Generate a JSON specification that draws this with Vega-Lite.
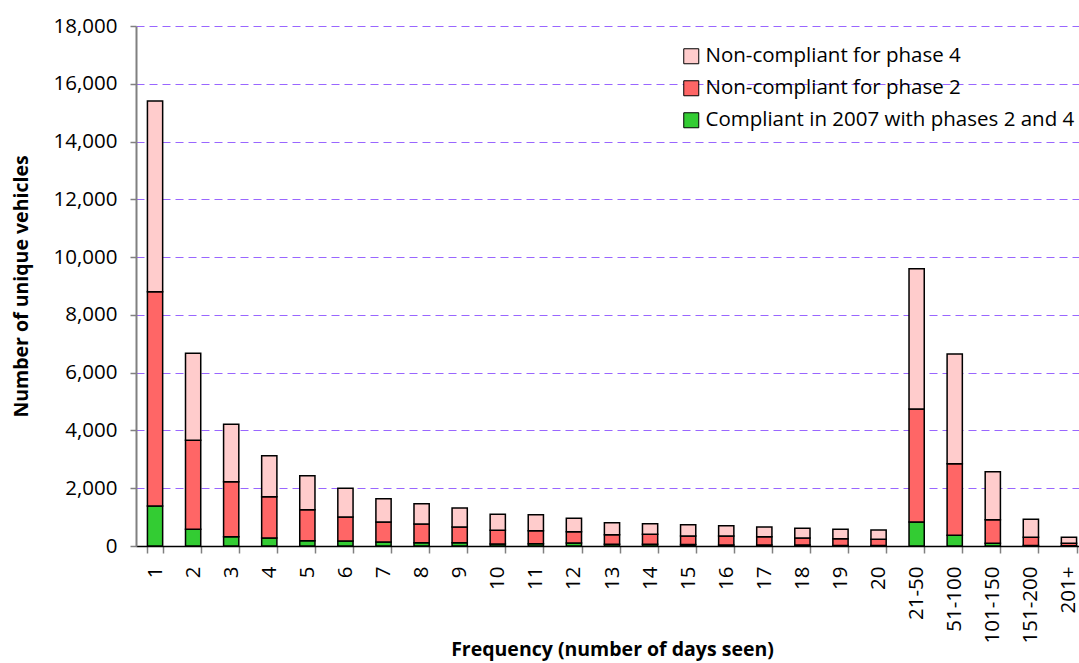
{
  "$schema": "https://vega.github.io/schema/vega-lite/v6.json",
  "autosize": {"type": "none"},
  "width": 952,
  "height": 520,
  "padding": {"left": 136, "top": 26, "right": -9, "bottom": 117},
  "background": "white",
  "config": {
    "view": {"stroke": null},
    "font": "Open Sans"
  },
  "data": {
    "values": [
      {"freq": "1", "Compliant in 2007 with phases 2 and 4": 1385, "Non-compliant for phase 2": 7418, "Non-compliant for phase 4": 6601},
      {"freq": "2", "Compliant in 2007 with phases 2 and 4": 577, "Non-compliant for phase 2": 3081, "Non-compliant for phase 4": 3012},
      {"freq": "3", "Compliant in 2007 with phases 2 and 4": 323, "Non-compliant for phase 2": 1903, "Non-compliant for phase 4": 1986},
      {"freq": "4", "Compliant in 2007 with phases 2 and 4": 277, "Non-compliant for phase 2": 1431, "Non-compliant for phase 4": 1419},
      {"freq": "5", "Compliant in 2007 with phases 2 and 4": 185, "Non-compliant for phase 2": 1073, "Non-compliant for phase 4": 1177},
      {"freq": "6", "Compliant in 2007 with phases 2 and 4": 173, "Non-compliant for phase 2": 831, "Non-compliant for phase 4": 992},
      {"freq": "7", "Compliant in 2007 with phases 2 and 4": 138, "Non-compliant for phase 2": 693, "Non-compliant for phase 4": 807},
      {"freq": "8", "Compliant in 2007 with phases 2 and 4": 115, "Non-compliant for phase 2": 647, "Non-compliant for phase 4": 703},
      {"freq": "9", "Compliant in 2007 with phases 2 and 4": 115, "Non-compliant for phase 2": 543, "Non-compliant for phase 4": 657},
      {"freq": "10", "Compliant in 2007 with phases 2 and 4": 69, "Non-compliant for phase 2": 473, "Non-compliant for phase 4": 554},
      {"freq": "11", "Compliant in 2007 with phases 2 and 4": 81, "Non-compliant for phase 2": 450, "Non-compliant for phase 4": 554},
      {"freq": "12", "Compliant in 2007 with phases 2 and 4": 104, "Non-compliant for phase 2": 392, "Non-compliant for phase 4": 462},
      {"freq": "13", "Compliant in 2007 with phases 2 and 4": 58, "Non-compliant for phase 2": 334, "Non-compliant for phase 4": 416},
      {"freq": "14", "Compliant in 2007 with phases 2 and 4": 58, "Non-compliant for phase 2": 346, "Non-compliant for phase 4": 369},
      {"freq": "15", "Compliant in 2007 with phases 2 and 4": 50, "Non-compliant for phase 2": 296, "Non-compliant for phase 4": 393},
      {"freq": "16", "Compliant in 2007 with phases 2 and 4": 35, "Non-compliant for phase 2": 311, "Non-compliant for phase 4": 358},
      {"freq": "17", "Compliant in 2007 with phases 2 and 4": 35, "Non-compliant for phase 2": 288, "Non-compliant for phase 4": 335},
      {"freq": "18", "Compliant in 2007 with phases 2 and 4": 35, "Non-compliant for phase 2": 242, "Non-compliant for phase 4": 335},
      {"freq": "19", "Compliant in 2007 with phases 2 and 4": 20, "Non-compliant for phase 2": 234, "Non-compliant for phase 4": 323},
      {"freq": "20", "Compliant in 2007 with phases 2 and 4": 20, "Non-compliant for phase 2": 211, "Non-compliant for phase 4": 323},
      {"freq": "21-50", "Compliant in 2007 with phases 2 and 4": 831, "Non-compliant for phase 2": 3912, "Non-compliant for phase 4": 4857},
      {"freq": "51-100", "Compliant in 2007 with phases 2 and 4": 369, "Non-compliant for phase 2": 2481, "Non-compliant for phase 4": 3796},
      {"freq": "101-150", "Compliant in 2007 with phases 2 and 4": 92, "Non-compliant for phase 2": 820, "Non-compliant for phase 4": 1660},
      {"freq": "151-200", "Compliant in 2007 with phases 2 and 4": 20, "Non-compliant for phase 2": 280, "Non-compliant for phase 4": 623},
      {"freq": "201+", "Compliant in 2007 with phases 2 and 4": 10, "Non-compliant for phase 2": 82, "Non-compliant for phase 4": 208}
    ]
  },
  "transform": [
    {"fold": ["Compliant in 2007 with phases 2 and 4", "Non-compliant for phase 2", "Non-compliant for phase 4"], "as": ["status", "count"]}
  ],
  "mark": {"type": "bar", "stroke": "black", "strokeWidth": 1.5},
  "encoding": {
    "x": {
      "field": "freq",
      "type": "nominal",
      "sort": null,
      "scale": {"paddingInner": 0.6, "paddingOuter": 0.3},
      "axis": {
        "title": "Frequency (number of days seen)",
        "titleFontSize": 19.5,
        "titleFontWeight": "bold",
        "titleColor": "black",
        "titleBaseline": "middle",
        "titleY": 103,
        "titleX": 476,
        "labelAngle": 270,
        "labelFontSize": 20.5,
        "labelColor": "black",
        "labelPadding": 13,
        "tickBand": "extent",
        "tickSize": 7,
        "tickColor": "#808080",
        "tickWidth": 1.5,
        "domainColor": "black",
        "domainWidth": 1.5,
        "grid": false
      }
    },
    "y": {
      "field": "count",
      "type": "quantitative",
      "stack": "zero",
      "scale": {"domain": [0, 18000], "nice": false},
      "axis": {
        "title": "Number of unique vehicles",
        "titleFontSize": 19.5,
        "titleFontWeight": "bold",
        "titleColor": "black",
        "titleBaseline": "middle",
        "titleAngle": 270,
        "titleX": -115,
        "titleY": 260,
        "values": [0, 2000, 4000, 6000, 8000, 10000, 12000, 14000, 16000, 18000],
        "format": ",d",
        "labelFontSize": 20.5,
        "labelColor": "black",
        "labelPadding": 13,
        "tickSize": 6,
        "tickColor": "#808080",
        "tickWidth": 1.5,
        "domainColor": "#808080",
        "domainWidth": 2,
        "grid": true,
        "gridColor": "#9966ff",
        "gridDash": [8, 5],
        "gridWidth": 1.2
      }
    },
    "color": {
      "field": "status",
      "type": "nominal",
      "sort": "descending",
      "scale": {
        "domain": ["Non-compliant for phase 4", "Non-compliant for phase 2", "Compliant in 2007 with phases 2 and 4"],
        "range": ["#ffcccc", "#ff6666", "#33cc33"]
      },
      "legend": {
        "title": null,
        "orient": "none",
        "legendX": 545,
        "legendY": 20,
        "symbolType": "square",
        "symbolSize": 225,
        "symbolStrokeColor": "black",
        "symbolStrokeWidth": 1,
        "symbolOpacity": 1,
        "labelFontSize": 20.5,
        "labelColor": "black",
        "labelLimit": 1000,
        "rowPadding": 11,
        "labelOffset": 4
      }
    },
    "order": {"field": "status", "sort": "ascending"}
  }
}
